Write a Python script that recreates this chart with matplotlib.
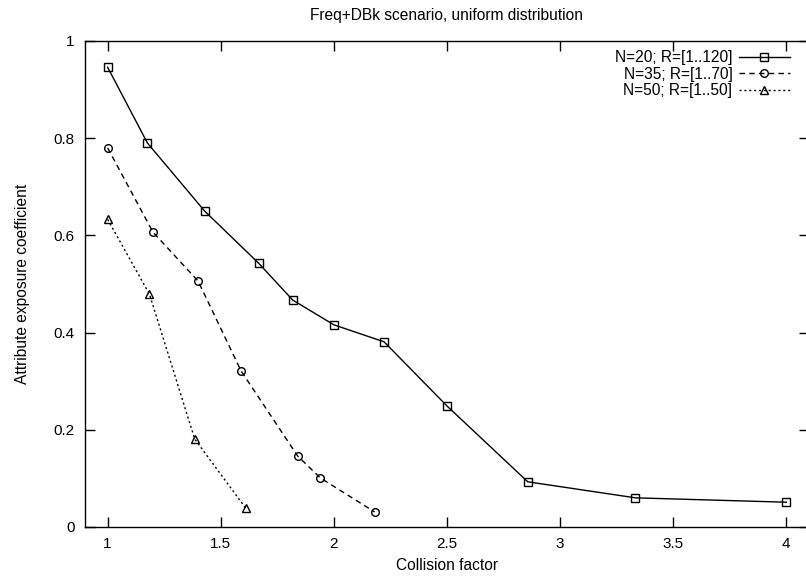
import matplotlib
matplotlib.use("Agg")
import matplotlib.pyplot as plt

plt.rcParams['font.family'] = ['Liberation Sans', 'DejaVu Sans']

# datos
x_n20 = [1.0, 1.176, 1.429, 1.667, 1.818, 2.0, 2.222, 2.5, 2.857, 3.333, 4.0]
y_n20 = [0.946, 0.790, 0.650, 0.543, 0.467, 0.416, 0.381, 0.249, 0.093, 0.060, 0.051]

x_n35 = [1.0, 1.2, 1.4, 1.59, 1.84, 1.94, 2.18]
y_n35 = [0.780, 0.607, 0.506, 0.321, 0.146, 0.101, 0.031]

x_n50 = [1.0, 1.185, 1.385, 1.61]
y_n50 = [0.633, 0.479, 0.181, 0.039]

etiquetas = ['N=20; R=[1..120]', 'N=35; R=[1..70]', 'N=50; R=[1..50]']
xticks = [1, 1.5, 2, 2.5, 3, 3.5, 4]
xtick_labels = ['1', '1.5', '2', '2.5', '3', '3.5', '4']
yticks = [0, 0.2, 0.4, 0.6, 0.8, 1]
ytick_labels = ['0', '0.2', '0.4', '0.6', '0.8', '1']

fig = plt.figure(figsize=(8.06, 5.78), dpi=100)
# el eje se sale un poco por la derecha, como en el original
ax = fig.add_axes([85/806, 51/578, 724/806, 486/578])

ax.plot(x_n20, y_n20, color='black', lw=1.0, ls='-',
        marker='s', ms=5.2, mfc='none', mec='black', mew=1.0, label=etiquetas[0])
ax.plot(x_n35, y_n35, color='black', lw=1.0, ls=(0, (4, 3)),
        marker='o', ms=5.5, mfc='none', mec='black', mew=1.0, label=etiquetas[1])
ax.plot(x_n50, y_n50, color='black', lw=1.0, ls=(0, (1.5, 2)),
        marker='^', ms=5.5, mfc='none', mec='black', mew=1.0, label=etiquetas[2])

ax.set_xlim(0.9, 4.1)
ax.set_ylim(0, 1)
ax.set_xticks(xticks)
ax.set_xticklabels(xtick_labels)
ax.set_yticks(yticks)
ax.set_yticklabels(ytick_labels)
ax.tick_params(direction='in', length=7, width=1, top=True, right=True,
               labelsize=11, pad=7.5)
for s in ax.spines.values():
    s.set_linewidth(1.0)

ax.set_title('Freq+DBk scenario, uniform distribution', fontsize=11.2, pad=15)
ax.set_xlabel('Collision factor', fontsize=11.2, labelpad=5)
ax.set_ylabel('Attribute exposure coefficient', fontsize=11.2, labelpad=17)

leg = ax.legend(loc='upper right', bbox_to_anchor=(790/806, 1 - 50/578),
                bbox_transform=fig.transFigure, frameon=False, markerfirst=False,
                numpoints=1, fontsize=11.2, handlelength=3.3, handletextpad=0.4,
                labelspacing=0.1, borderpad=0, borderaxespad=0)

fig.savefig('out.png', dpi=100)
